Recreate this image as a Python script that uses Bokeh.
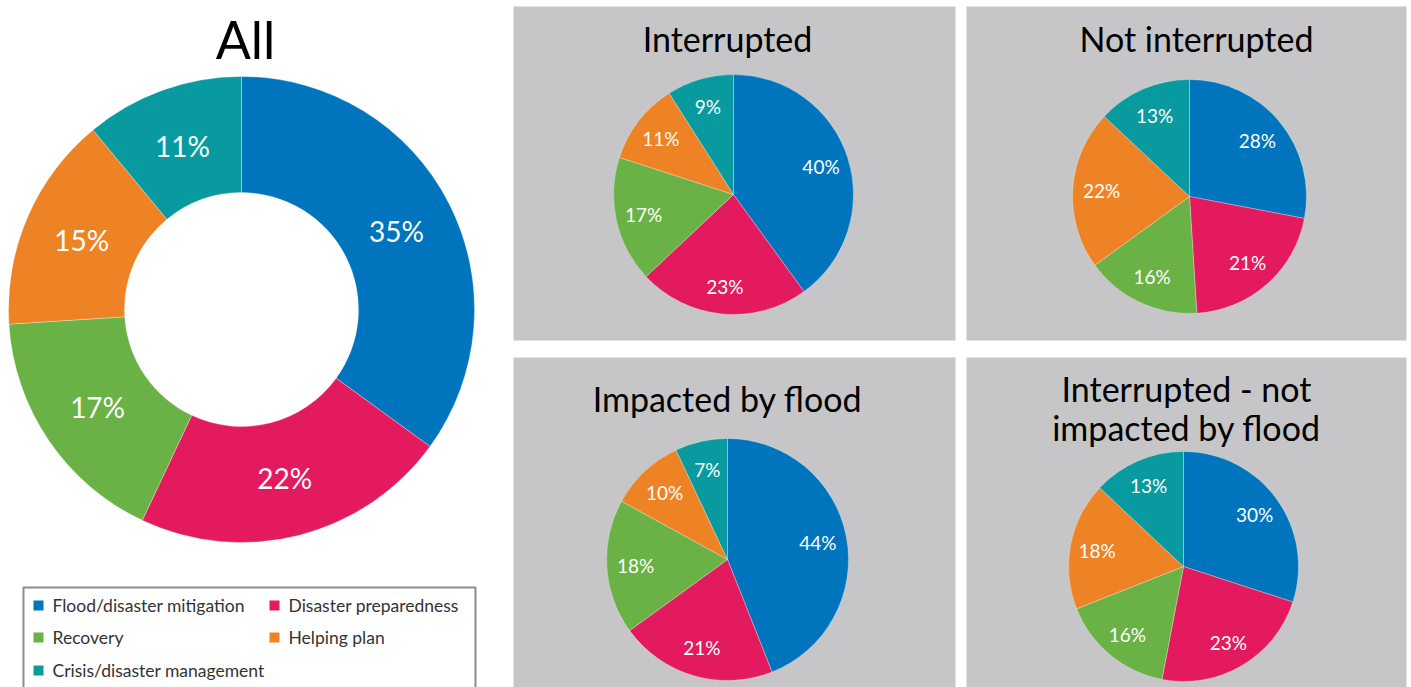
import math
from bokeh.plotting import figure
from bokeh.models import Range1d, ColumnDataSource
from bokeh.core.properties import value
from bokeh.embed import file_html
from bokeh.resources import INLINE

# ---------------- data ----------------
categories = ["Flood/disaster mitigation", "Disaster preparedness", "Recovery",
              "Helping plan", "Crisis/disaster management"]
colors = ["#0075BD", "#E31B5E", "#6AB245", "#EE8325", "#089A9F"]

all_vals = [35, 22, 17, 15, 11]
interrupted_vals = [40, 23, 17, 11, 9]
not_interrupted_vals = [28, 21, 16, 22, 13]
impacted_vals = [44, 21, 18, 10, 7]
interrupted_not_impacted_vals = [30, 23, 16, 18, 13]

W, H = 1411, 687
FONT = "Lato"
GREY = "#C6C6C8"


def Y(y):
    return H - y


p = figure(width=W, height=H, output_backend="svg", toolbar_location=None,
           x_range=Range1d(0, W), y_range=Range1d(0, H), min_border=0)
p.axis.visible = False
p.grid.visible = False
p.outline_line_color = None
p.background_fill_color = "white"
p.border_fill_color = "white"

# grey panels (x0, y0, x1, y1 in screen pixels)
panels = [(513, 6, 955, 340), (966, 6, 1406, 340), (513, 357, 955, 700), (966, 357, 1406, 700)]
p.quad(left=[a[0] for a in panels], right=[a[2] for a in panels],
       top=[Y(a[1]) for a in panels], bottom=[Y(a[3]) for a in panels],
       fill_color=GREY, line_color=None)


def draw_pie(vals, cx, cy, r_out, r_in, label_r, font_size):
    total = float(sum(vals))
    starts, ends, mids = [], [], []
    acc = 0.0
    for v in vals:
        a0 = math.pi / 2 - 2 * math.pi * acc / total
        acc += v
        a1 = math.pi / 2 - 2 * math.pi * acc / total
        starts.append(a0)
        ends.append(a1)
        mids.append((a0 + a1) / 2)
    src = ColumnDataSource(dict(
        x=[cx] * len(vals), y=[Y(cy)] * len(vals),
        start=starts, end=ends, color=colors, cat=categories))
    if r_in > 0:
        p.annular_wedge(x="x", y="y", inner_radius=r_in, outer_radius=r_out,
                        start_angle="start", end_angle="end", direction="clock",
                        fill_color="color", line_color="white", line_width=0.6,
                        line_alpha=0.5, source=src)
    else:
        p.wedge(x="x", y="y", radius=r_out,
                start_angle="start", end_angle="end", direction="clock",
                fill_color="color", line_color="white", line_width=0.6,
                line_alpha=0.5, source=src)
    lx = [cx + label_r * math.cos(m) for m in mids]
    ly = [Y(cy) + label_r * math.sin(m) for m in mids]
    p.text(x=lx, y=ly, text=[f"{v}%" for v in vals], text_color="white",
           text_font=value(FONT), text_font_size=f"{font_size}px",
           text_align="center", text_baseline="middle")


# All (donut)
draw_pie(all_vals, 241, 309, 233, 117, 174, 28)
# Interrupted
draw_pie(interrupted_vals, 733, 194, 120, 0, 92, 19)
# Not interrupted
draw_pie(not_interrupted_vals, 1189, 196, 117, 0, 88, 19)
# Impacted by flood
draw_pie(impacted_vals, 727, 559, 121, 0, 92, 19)
# Interrupted - not impacted by flood
draw_pie(interrupted_not_impacted_vals, 1183, 566, 115, 0, 88, 19)

# titles
titles = ["Interrupted", "Not interrupted", "Impacted by flood", "Interrupted - not", "impacted by flood"]
tx = [727, 1196, 727, 1186, 1186]
ty = [38, 38, 398, 388, 427]
p.text(x=tx, y=[Y(v) for v in ty], text=titles, text_color="black",
       text_font=value(FONT), text_font_size="34px",
       text_align="center", text_baseline="middle")
p.text(x=[245], y=[Y(38)], text=["All"], text_color="black",
       text_font=value(FONT), text_font_size="52px",
       text_align="center", text_baseline="middle")

# legend
p.quad(left=[23], right=[475], top=[Y(587)], bottom=[Y(700)],
       fill_color="white", line_color="#8C8C8C", line_width=2)
leg_x = [38, 274, 38, 274, 38]
leg_y = [605, 605, 637, 637, 670]
p.rect(x=leg_x, y=[Y(v) for v in leg_y], width=10, height=10,
       fill_color=colors, line_color=None)
p.text(x=[v + 14 for v in leg_x], y=[Y(v) for v in leg_y], text=categories,
       text_color="#333333", text_font=value(FONT), text_font_size="17.5px",
       text_align="left", text_baseline="middle")

open("out.html", "w").write(file_html(p, INLINE))
